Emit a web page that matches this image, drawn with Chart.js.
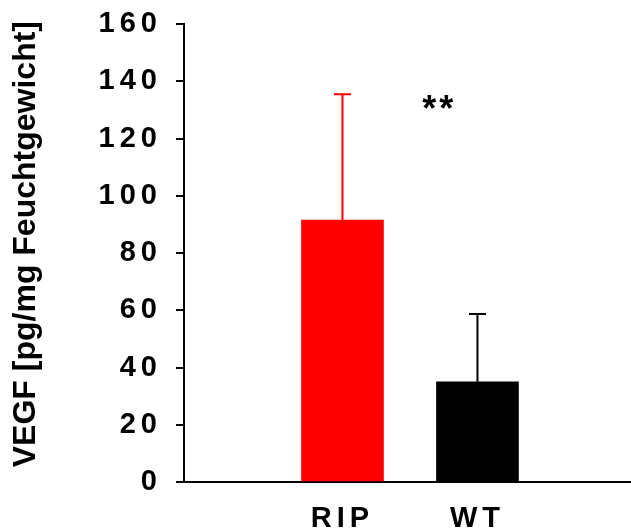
<!DOCTYPE html>
<html lang="de">
<head>
  <meta charset="UTF-8">
  <title>VEGF</title>
  <script src="https://cdn.jsdelivr.net/npm/chart.js"></script>
  <style>
    html, body {
      margin: 0;
      padding: 0;
      background: #fff;
    }
    .wrap {
      position: relative;
      width: 631px;
      height: 532px;
    }
  </style>
</head>
<body>
  <div class="wrap">
    <canvas id="chart"></canvas>
  </div>

  <script>
    // data
    const groups = ['RIP', 'WT'];
    const groupPos = [1, 2];
    const means = [91.5, 35];
    const sdUpper = [44, 23.7];
    const barColors = ['#ff0000', '#000000'];
    const yTicks = [0, 20, 40, 60, 80, 100, 120, 140, 160];
    const sigLabel = '**';
    const sigAt = { x: 1.705, y: 126 };

    const FONT = "'Liberation Sans', Arial, sans-serif";

    // upper error bars + significance stars
    const errorBars = {
      id: 'errorBars',
      beforeDraw(chart) {
        chart.ctx.letterSpacing = '0px';
      },
      afterDatasetsDraw(chart) {
        const ctx = chart.ctx;
        const yScale = chart.scales.y;
        const xScale = chart.scales.x;
        const meta = chart.getDatasetMeta(0);
        ctx.save();
        meta.data.forEach((bar, i) => {
          const top = yScale.getPixelForValue(means[i] + sdUpper[i]);
          ctx.strokeStyle = barColors[i];
          ctx.lineWidth = 2;
          ctx.beginPath();
          ctx.moveTo(bar.x, bar.y);
          ctx.lineTo(bar.x, top);
          ctx.moveTo(bar.x - 8.5, top);
          ctx.lineTo(bar.x + 8.5, top);
          ctx.stroke();
        });
        ctx.fillStyle = '#000';
        ctx.font = 'bold 36px ' + FONT;
        ctx.letterSpacing = '3px';
        ctx.textAlign = 'center';
        ctx.textBaseline = 'alphabetic';
        ctx.fillText(sigLabel, xScale.getPixelForValue(sigAt.x) + 1.5, yScale.getPixelForValue(sigAt.y));
        ctx.restore();
        // tick labels are drawn after this, with the wide spacing
        ctx.letterSpacing = '5px';
      }
    };

    const ctx = document.getElementById('chart').getContext('2d');
    const chart = new Chart(ctx, {
      type: 'bar',
      data: {
        datasets: [{
          data: groupPos.map((x, i) => ({ x: x, y: means[i] })),
          backgroundColor: barColors,
          borderWidth: 0,
          barThickness: 82
        }]
      },
      options: {
        responsive: true,
        maintainAspectRatio: false,
        animation: false,
        events: [],
        layout: {
          padding: { top: 24, right: 1, bottom: 0, left: 0 }
        },
        plugins: {
          legend: { display: false },
          tooltip: { enabled: false }
        },
        scales: {
          x: {
            type: 'linear',
            offset: false,
            min: -0.174,
            max: 3.13,
            grid: { display: false, offset: false },
            border: { display: true, color: '#000', width: 2 },
            afterBuildTicks: (scale) => {
              scale.ticks = groupPos.map(v => ({ value: v }));
            },
            afterFit: (scale) => {
              scale.height = 50;
              scale.paddingLeft = 0;
              scale.paddingRight = 0;
            },
            ticks: {
              z: 1,
              padding: 12,
              color: '#000',
              font: { family: FONT, size: 29, weight: 'bold' },
              callback: (v) => groups[groupPos.indexOf(v)]
            }
          },
          y: {
            min: 0,
            max: 160,
            afterBuildTicks: (scale) => {
              scale.ticks = yTicks.map(v => ({ value: v }));
            },
            afterFit: (scale) => {
              scale.width = 184;
              scale.paddingTop = 0;
              scale.paddingBottom = 0;
            },
            grid: {
              drawOnChartArea: false,
              drawTicks: true,
              tickLength: 8,
              color: '#000',
              lineWidth: 2
            },
            border: { display: true, color: '#000', width: 2 },
            ticks: {
              z: 1,
              padding: 14,
              color: '#000',
              font: { family: FONT, size: 29, weight: 'bold' }
            },
            title: {
              display: true,
              text: '  VEGF [pg/mg Feuchtgewicht]',
              color: '#000',
              padding: { top: 7, bottom: 0 },
              font: { family: FONT, size: 32, weight: 'bold' }
            }
          }
        }
      },
      plugins: [errorBars]
    });
  </script>
</body>
</html>
